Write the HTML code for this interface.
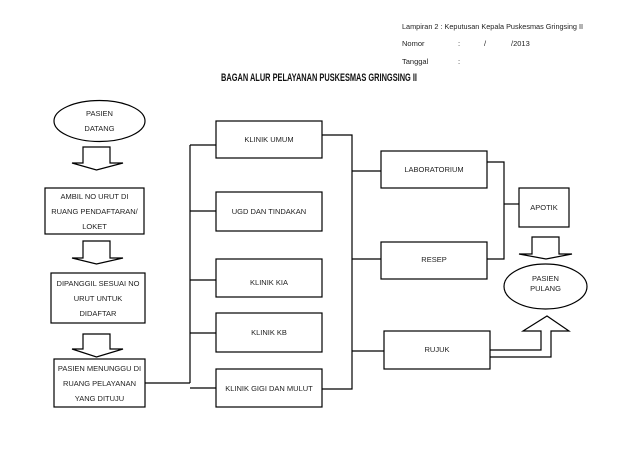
<!DOCTYPE html>
<html><head><meta charset="utf-8"><style>
body{margin:0;background:#fff;}
svg{display:block;font-family:"Liberation Sans",sans-serif;}
text{fill:#222;font-size:7.5px;}
</style></head><body>
<svg width="638" height="452" viewBox="0 0 638 452" xmlns="http://www.w3.org/2000/svg">
<g>
<text x="402" y="29" textLength="181" lengthAdjust="spacingAndGlyphs">Lampiran 2 : Keputusan Kepala Puskesmas Gringsing II</text>
<text x="402" y="46">Nomor</text><text x="458" y="46">:</text><text x="484" y="46">/</text><text x="511" y="46">/2013</text>
<text x="402" y="64">Tanggal</text><text x="458" y="64">:</text>
<text x="221" y="81" textLength="196" lengthAdjust="spacingAndGlyphs" style="font-size:11px;font-weight:bold;fill:#111;font-family:'Liberation Sans Narrow','Liberation Sans',sans-serif">BAGAN ALUR PELAYANAN PUSKESMAS GRINGSING II</text>
</g>
<g fill="none" stroke="#000" stroke-width="1.2">
<ellipse cx="99.5" cy="121" rx="45.5" ry="20.5"/>
<polygon points="83,147 110,147 110,163 123,163 96.5,170 72,163 83,163"/>
<rect x="45" y="188" width="99" height="46"/>
<polygon points="83,241 110,241 110,258 123,258 96.5,264 72,258 83,258"/>
<rect x="51" y="273" width="94" height="50"/>
<polygon points="83,334 110,334 110,349 123,349 96.5,357 72,349 83,349"/>
<rect x="54" y="359" width="91" height="48"/>
<polyline points="145,383 190,383"/>
<line x1="190" y1="145" x2="190" y2="383"/>
<line x1="190" y1="145" x2="216" y2="145"/>
<line x1="190" y1="211" x2="216" y2="211"/>
<line x1="190" y1="280" x2="216" y2="280"/>
<line x1="190" y1="333" x2="216" y2="333"/>
<line x1="190" y1="388" x2="216" y2="388"/>
<rect x="216" y="121" width="106" height="37"/>
<rect x="216" y="192" width="106" height="39"/>
<rect x="216" y="259" width="106" height="38"/>
<rect x="216" y="313" width="106" height="39"/>
<rect x="216" y="369" width="106" height="38"/>
<polyline points="322,135 352,135 352,389 322,389"/>
<line x1="352" y1="171" x2="381" y2="171"/>
<line x1="352" y1="259" x2="381" y2="259"/>
<line x1="352" y1="351" x2="384" y2="351"/>
<rect x="381" y="151" width="106" height="37"/>
<rect x="381" y="242" width="106" height="37"/>
<rect x="384" y="331" width="106" height="38"/>
<polyline points="487,162 504,162 504,259 487,259"/>
<line x1="504" y1="204" x2="519" y2="204"/>
<rect x="519" y="188" width="50" height="39"/>
<polygon points="532,237 559,237 559,254 572,254 546,259 519,254 532,254"/>
<ellipse cx="545.5" cy="286.5" rx="41.5" ry="22.5"/>
<polyline points="490,350 541,350 541,331 523,331 547,316 569,331 551,331 551,357 490,357"/>
</g>
<g text-anchor="middle">
<text x="99.5" y="116">PASIEN</text><text x="99.5" y="131">DATANG</text>
<text x="94.5" y="199">AMBIL NO URUT DI</text><text x="94.5" y="214">RUANG PENDAFTARAN/</text><text x="94.5" y="229">LOKET</text>
<text x="98" y="286">DIPANGGIL SESUAI NO</text><text x="98" y="301">URUT UNTUK</text><text x="98" y="316">DIDAFTAR</text>
<text x="99.5" y="371">PASIEN MENUNGGU DI</text><text x="99.5" y="386">RUANG PELAYANAN</text><text x="99.5" y="401">YANG DITUJU</text>
<text x="269" y="142">KLINIK UMUM</text>
<text x="269" y="214">UGD DAN TINDAKAN</text>
<text x="269" y="285">KLINIK KIA</text>
<text x="269" y="335">KLINIK KB</text>
<text x="269" y="391">KLINIK GIGI DAN MULUT</text>
<text x="434" y="172">LABORATORIUM</text>
<text x="434" y="262">RESEP</text>
<text x="437" y="352">RUJUK</text>
<text x="544" y="210">APOTIK</text>
<text x="545.5" y="281">PASIEN</text><text x="545.5" y="291">PULANG</text>
</g>
</svg>
</body></html>
